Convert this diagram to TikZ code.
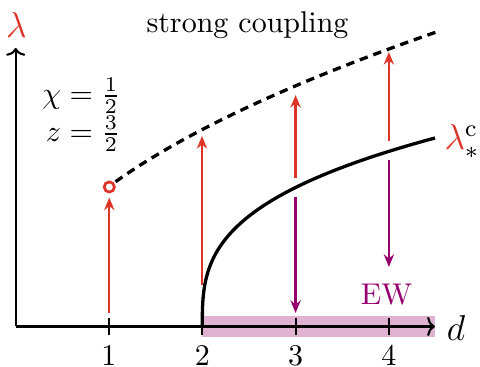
\documentclass[tikz,border=0pt]{standalone}
\usetikzlibrary{arrows.meta}
\definecolor{myred}{RGB}{222,52,40}
\definecolor{mypurple}{RGB}{150,0,110}
\definecolor{myband}{RGB}{224,178,210}
\begin{document}
\begin{tikzpicture}[x=0.3333pt,y=-0.3333pt,
  axis/.style={line width=0.7pt,-{Computer Modern Rightarrow[length=2.6pt,width=6.4pt]}},
  tickline/.style={line width=0.7pt},
  redarr/.style={myred,line width=0.8pt,-{Stealth[length=4.2pt,width=3.4pt]}},
  purarr/.style={mypurple,line width=0.8pt,-{Stealth[length=4.2pt,width=3.4pt]}},
  lbl/.style={inner sep=0pt,anchor=base},
  biglbl/.style={inner sep=0pt,anchor=base,font=\large}]
\useasboundingbox (0,0) rectangle (480,367);
% band
\fill[myband] (202.3,316) rectangle (435,337.5);
% axes
\coordinate (O) at (15.7,326.5);
\coordinate (xend) at (435,326.5);
\coordinate (yend) at (15.7,48);
\draw[axis] (O) -- (xend);
\draw[axis] (O) -- (yend);
\node[biglbl,text=myred] (lam) at (16.5,38) {$\lambda$};
\node[biglbl] (dl) at (456,340.5) {$d$};
% ticks
\foreach \d/\xx in {1/109,2/202.3,3/295.6,4/388.9}{
  \coordinate (tt\d) at (\xx,318);
  \coordinate (tb\d) at (\xx,335.5);
  \draw[tickline] (tt\d) -- (tb\d);
  \node[lbl] (tl\d) at (\xx,366) {$\d$};
}
% curves
\draw[line width=1.1pt,dash pattern=on 2.8pt off 2pt]
  plot[domain=1.07:4.5,samples=60,smooth] ({15.7+93.3*\x},{326.5-2.5-137.5*sqrt(\x)});
\draw[line width=1.1pt]
  plot[domain=0:1.3572,samples=80,smooth] ({15.7+93.3*(2+\x*\x*\x)},{326.5-139*\x});
% circle
\node[circle,draw=myred,line width=0.9pt,minimum size=3.4pt,inner sep=0pt] (c1) at (109.3,187) {};
% red arrows
\coordinate (r1a) at (109.3,313); \coordinate (r1b) at (109.3,197.5);
\coordinate (r2a) at (202,285); \coordinate (r2b) at (202,136);
\coordinate (r3a) at (295.6,178); \coordinate (r3b) at (295.6,95);
\coordinate (r4a) at (388.9,141); \coordinate (r4b) at (388.9,52);
\draw[redarr] (r1a) -- (r1b);
\draw[redarr] (r2a) -- (r2b);
\draw[redarr] (r3a) -- (r3b);
\draw[redarr] (r4a) -- (r4b);
% purple arrows
\coordinate (p3a) at (295.6,197); \coordinate (p3b) at (295.6,313);
\coordinate (p4a) at (388.9,160); \coordinate (p4b) at (388.9,267);
\draw[purarr] (p3a) -- (p3b);
\draw[purarr] (p4a) -- (p4b);
% labels
\node[lbl,text=mypurple] (ew) at (386.5,305) {EW};
\node[lbl] (sc) at (247.5,32.3) {strong coupling};
\node[inner sep=0pt,anchor=east] (chi) at (121,96) {$\chi=\frac{1}{2}$};
\node[inner sep=0pt,anchor=east] (zz) at (121,134) {$z=\frac{3}{2}$};
\node[inner sep=0pt,anchor=base west,font=\large] (lc) at (444,149.3) {$\textcolor{myred}{\lambda}_*^{\mathrm{c}}$};
\end{tikzpicture}
\end{document}
